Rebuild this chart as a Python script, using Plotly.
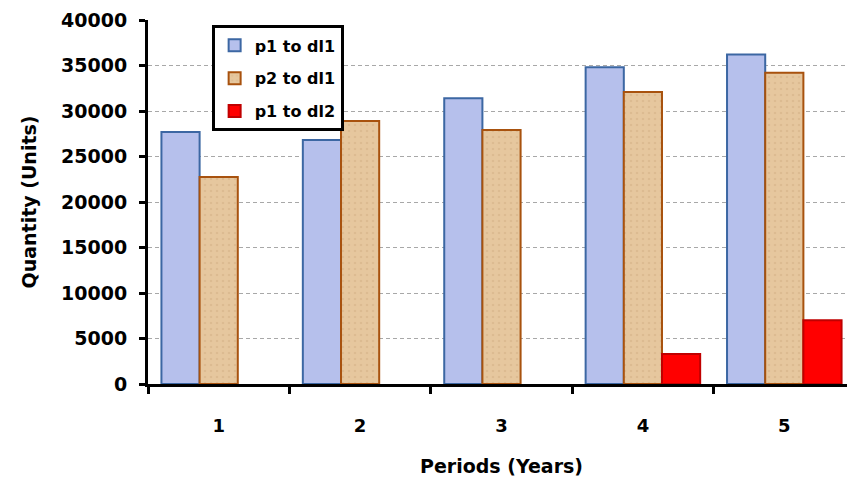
import plotly.graph_objects as go

periods = ["1", "2", "3", "4", "5"]
p1_to_dl1 = [27700, 26800, 31400, 34800, 36200]
p2_to_dl1 = [22750, 28900, 27900, 32100, 34200]
p1_to_dl2 = [0, 0, 0, 3300, 7000]

FONT = "DejaVu Sans"

fig = go.Figure()
fig.add_trace(go.Bar(
    x=periods, y=p1_to_dl1, name="p1 to dl1", legendgroup="a",
    marker=dict(color="#B6C0EC", line=dict(color="#3C67A3", width=2)),
))
fig.add_trace(go.Bar(
    x=periods, y=p2_to_dl1, name="p2 to dl1", legendgroup="b",
    marker=dict(color="#E6C79E", line=dict(color="#A8520E", width=2),
                pattern=dict(shape=".", fgcolor="#D2AF84", bgcolor="#E6C79E", size=6, solidity=0.15)),
))
fig.add_trace(go.Bar(
    x=periods, y=p1_to_dl2, name="p1 to dl2", legendgroup="c",
    marker=dict(color="#FF0000",
                line=dict(color="#C00000", width=[0 if v == 0 else 2 for v in p1_to_dl2])),
))

fig.update_layout(
    width=847, height=474,
    margin=dict(l=140, r=0, t=12, b=98),
    paper_bgcolor="white", plot_bgcolor="white",
    barmode="group", bargap=0.19, bargroupgap=0,
    font=dict(family=FONT, color="black"),
    showlegend=True,
    legend=dict(
        x=0.09, y=0.985, xanchor="left", yanchor="top",
        bgcolor="white", bordercolor="black", borderwidth=3,
        font=dict(family=FONT, size=16, color="black", weight="bold"),
        tracegroupgap=9, itemsizing="constant", traceorder="grouped",
    ),
    xaxis=dict(
        automargin=False,
        showline=True, linecolor="black", linewidth=3,
        ticks="outside", tickson="boundaries", ticklen=7, tickwidth=3, tickcolor="black",
        tickfont=dict(family=FONT, size=18, weight="bold"),
        ticklabelstandoff=23,
        showgrid=False,
        title=dict(text="Periods (Years)", font=dict(family=FONT, size=19, weight="bold"), standoff=26),
    ),
    yaxis=dict(
        automargin=False,
        range=[0, 40000], dtick=5000, tickformat="d",
        showline=True, linecolor="black", linewidth=3,
        ticks="outside", ticklen=6, tickwidth=3, tickcolor="black",
        tickfont=dict(family=FONT, size=19, weight="bold"),
        ticklabelstandoff=8,
        showgrid=True, gridcolor="#A8A8A8", griddash="4px,3px", gridwidth=1,
        zeroline=False,
        title=dict(text="Quantity (Units)", font=dict(family=FONT, size=19, weight="bold"), standoff=20),
    ),
)

fig.write_html("out.html")
